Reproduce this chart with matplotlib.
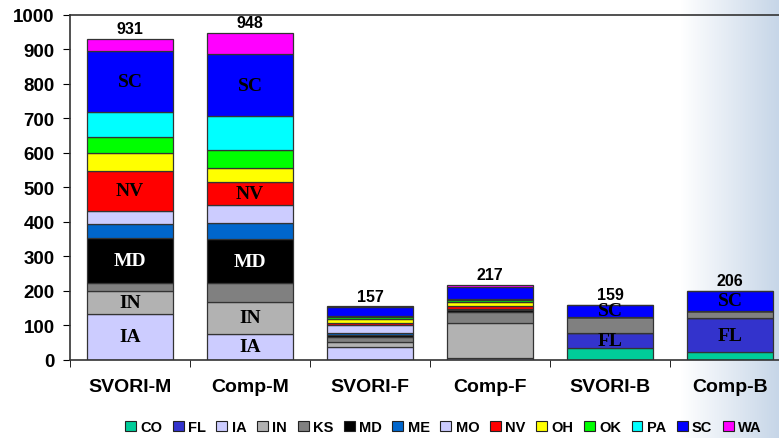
import matplotlib
matplotlib.use("Agg")
import matplotlib.pyplot as plt
import numpy as np
from matplotlib.patches import Patch

categories = ["SVORI-M", "Comp-M", "SVORI-F", "Comp-F", "SVORI-B", "Comp-B"]
totals = [931, 948, 157, 217, 159, 206]

states = ["CO", "FL", "IA", "IN", "KS", "MD", "ME", "MO", "NV", "OH", "OK", "PA", "SC", "WA"]
co = [0, 0, 0, 0, 33, 21]
fl = [0, 0, 0, 0, 44, 99]
ia = [131, 73, 37, 4, 0, 0]
in_ = [67, 95, 14, 101, 0, 0]
ks = [24, 53, 15, 32, 47, 22]
md = [132, 129, 4, 8, 0, 0]
me = [38, 47, 6, 2, 0, 0]
mo = [40, 51, 24, 0, 0, 0]
nv = [116, 67, 6, 8, 0, 0]
oh = [52, 40, 12, 12, 0, 0]
ok = [46, 53, 6, 6, 0, 0]
pa = [71, 99, 3, 4, 0, 0]
sc = [177, 179, 25, 34, 35, 57]
wa = [37, 62, 2, 6, 0, 0]
series = [co, fl, ia, in_, ks, md, me, mo, nv, oh, ok, pa, sc, wa]

colors = ["#00cc99", "#3333cc", "#ccccff", "#b2b2b2", "#808080", "#000000", "#0066cc",
          "#ccccff", "#ff0000", "#ffff00", "#00ff00", "#00ffff", "#0000ff", "#ff00ff"]

# segment labels drawn inside the bars: (bar index, state)
inside = [(0, "IA"), (0, "IN"), (0, "MD"), (0, "NV"), (0, "SC"),
          (1, "IA"), (1, "IN"), (1, "MD"), (1, "NV"), (1, "SC"),
          (4, "FL"), (4, "SC"), (5, "FL"), (5, "SC")]

fig = plt.figure(figsize=(7.79, 4.39), dpi=100)

# light blue-grey fade on the right edge of the slide
bg = fig.add_axes([0, 0, 1, 1], zorder=-10)
t = np.clip((np.linspace(0, 1, 400) - 0.875) / 0.125, 0, 1)
end = np.array([0.78, 0.84, 0.91])
row = (1 - t)[:, None] * np.ones(3) + t[:, None] * end
bg.imshow(np.tile(row[None, :, :], (10, 1, 1)), aspect="auto", extent=[0, 1, 0, 1])
bg.set_axis_off()

ax = fig.add_axes([0.0899, 0.1788, 0.9243, 0.7848])
ax.patch.set_alpha(0)
x = np.arange(len(categories))
bottom = np.zeros(len(categories))
starts = {}
for name, vals, col in zip(states, series, colors):
    vals = np.array(vals, dtype=float)
    ax.bar(x, vals, bottom=bottom, width=0.72, color=col,
           edgecolor="#333333", linewidth=0.9)
    starts[name] = (bottom.copy(), vals)
    bottom = bottom + vals

for i, name in inside:
    b, v = starts[name]
    ax.text(x[i], b[i] + v[i] / 2, name, ha="center", va="center",
            fontsize=14, fontweight="bold", family="Liberation Serif",
            color="white" if name == "MD" else "black")

for xi, top, lab in zip(x, bottom, totals):
    ax.annotate(str(lab), (xi, top), xytext=(0, 2), textcoords="offset points",
                ha="center", va="bottom", fontsize=11.5, fontweight="bold",
                family="Liberation Sans")

ax.set_xlim(-0.5, len(categories) - 0.5)
ax.set_ylim(0, 1000)
ax.set_yticks(np.arange(0, 1001, 100))
ax.set_xticks(x)
ax.set_xticklabels(categories)
ax.set_xticks(np.arange(-0.5, len(categories)), minor=True)
ax.tick_params(axis="x", which="major", length=0, pad=13)
ax.tick_params(axis="x", which="minor", length=5, direction="out")
ax.tick_params(axis="y", length=5, direction="out", pad=6)
for lab in ax.get_xticklabels():
    lab.set_fontsize(14)
    lab.set_fontweight("bold")
    lab.set_family("Liberation Sans")
for lab in ax.get_yticklabels():
    lab.set_fontsize(13.5)
    lab.set_fontweight("bold")
    lab.set_family("Liberation Sans")
ax.spines["right"].set_visible(False)
for side in ("left", "bottom", "top"):
    ax.spines[side].set_color("#333333")
    ax.spines[side].set_linewidth(1.2)

handles = [Patch(facecolor=c, edgecolor="#222222", linewidth=0.8, label=s)
           for s, c in zip(states, colors)]
fig.legend(handles=handles, loc="center", bbox_to_anchor=(0.569, 0.025),
           ncol=len(states), frameon=False, handlelength=0.75, handleheight=0.75,
           handletextpad=0.3, columnspacing=0.72,
           prop={"family": "Liberation Sans", "weight": "bold", "size": 10.5})

fig.savefig("out.png", dpi=100)
